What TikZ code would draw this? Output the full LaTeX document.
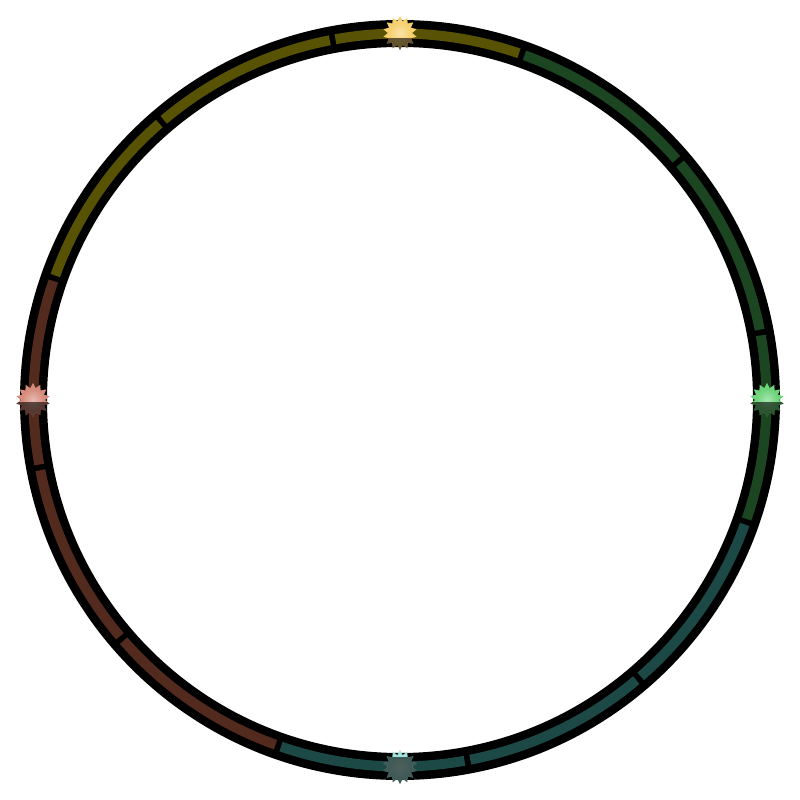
\documentclass[tikz,border=0pt]{standalone}
\usetikzlibrary{shapes.geometric}
\definecolor{olivebd}{RGB}{88,82,4}
\definecolor{greenbd}{RGB}{28,70,34}
\definecolor{tealbd}{RGB}{28,72,70}
\definecolor{brownbd}{RGB}{82,42,30}
\definecolor{sunyel}{RGB}{246,208,110}
\definecolor{sungrn}{RGB}{110,212,122}
\definecolor{suntea}{RGB}{160,226,218}
\definecolor{sunsal}{RGB}{214,140,124}
\tikzset{
  sunray/.style={star, star points=14, star point ratio=1.4, minimum size=0.34cm, inner sep=0pt, draw=none}
}
\begin{document}
\begin{tikzpicture}[line cap=butt, line join=round]
	\useasboundingbox (-4,-4) rectangle (4,4);
	% black ring
	\draw[line width=0.27cm] (0,0) circle (3.665);
	% coloured arcs, three per quarter
	\foreach \a/\c in {-19.4/greenbd, 10.6/greenbd, 40.6/greenbd, 70.6/olivebd, 100.6/olivebd, 130.6/olivebd,
		160.6/brownbd, 190.6/brownbd, 220.6/brownbd, 250.6/tealbd, 280.6/tealbd, 310.6/tealbd}
	{
		\pgfmathsetmacro\s{\a+0.45}
		\pgfmathsetmacro\e{\a+29.55}
		\draw[\c, line width=0.1cm] (\s:3.665) arc (\s:\e:3.665);
	}
	% suns
	\foreach \n/\ang/\c/\d in {N/90/sunyel/-0.06, E/0/sungrn/-0.03, S/270/suntea/0.10, W/180/sunsal/-0.03}
	{
		\node[sunray, fill=\c] (sun\n) at (\ang:3.67) {};
		\shade[inner color=\c!60!white, outer color=\c] (sun\n.center) circle (0.11);
		\begin{scope}
			\clip ([shift={(-0.25,\d)}]sun\n.center) rectangle ++(0.5,-0.4);
			\node[sunray, fill=black, fill opacity=0.6] at (sun\n.center) {};
		\end{scope}
	}
\end{tikzpicture}
\end{document}
